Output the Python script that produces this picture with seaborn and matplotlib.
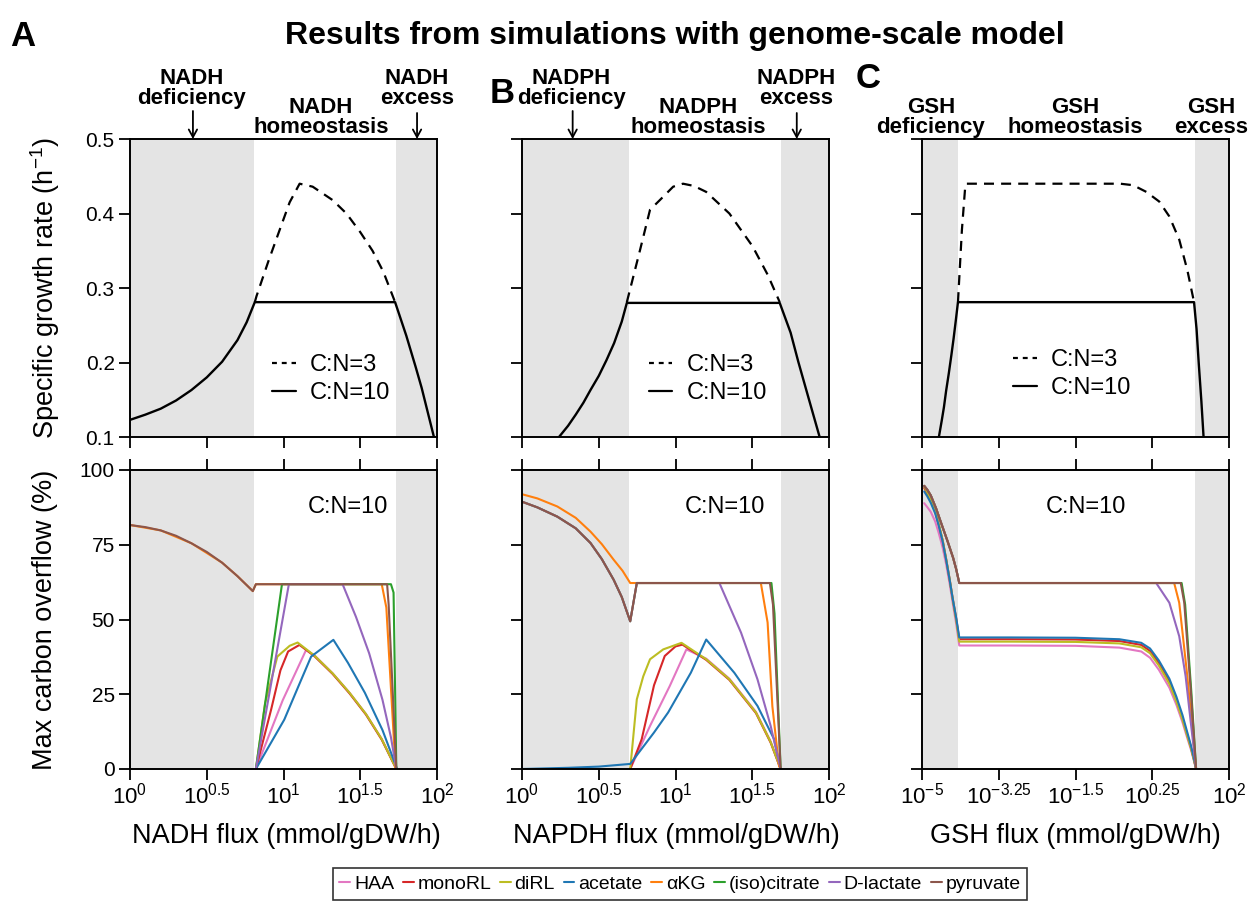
import numpy as np
import pandas as pd
import matplotlib
matplotlib.use("Agg")
import matplotlib.pyplot as plt
from matplotlib.lines import Line2D
from matplotlib.ticker import NullLocator, FixedLocator, FixedFormatter
import seaborn as sns

sns.set_style("ticks")
plt.rcParams["font.family"] = ["Liberation Sans", "DejaVu Sans"]
plt.rcParams["mathtext.fontset"] = "custom"
plt.rcParams["mathtext.rm"] = "Liberation Sans"
plt.rcParams["mathtext.it"] = "Liberation Sans:italic"
plt.rcParams["mathtext.bf"] = "Liberation Sans:bold"
plt.rcParams.update({"text.color": "black", "axes.labelcolor": "black", "xtick.color": "black",
                     "ytick.color": "black", "axes.edgecolor": "black"})

# ---------------- data ----------------
series_names = ["HAA", "monoRL", "diRL", "acetate", "αKG", "(iso)citrate", "D-lactate", "pyruvate"]
series_colors = ["#e377c2", "#d62728", "#bcbd22", "#1f77b4", "#ff7f0e", "#2ca02c", "#9467bd", "#8c564b"]

# x values are log10 of flux
# --- growth rate, panel A (NADH)
growth_a_cn10_lx = [0.0, 0.1, 0.2, 0.3, 0.4, 0.5, 0.6, 0.7, 0.76, 0.813, 1.727, 1.8, 1.861, 1.9, 1.98]
growth_a_cn10 = [0.123, 0.130, 0.138, 0.149, 0.163, 0.180, 0.201, 0.230, 0.254, 0.281, 0.281, 0.236, 0.194, 0.166, 0.100]
growth_a_cn3_lx = [0.813, 0.824, 0.90, 0.975, 1.04, 1.105, 1.19, 1.32, 1.41, 1.50, 1.58, 1.65, 1.727]
growth_a_cn3 = [0.281, 0.289, 0.335, 0.378, 0.415, 0.440, 0.436, 0.418, 0.400, 0.375, 0.350, 0.322, 0.281]
# --- growth rate, panel B (NADPH)
growth_b_cn10_lx = [0.241, 0.3, 0.35, 0.4, 0.446, 0.5, 0.55, 0.6, 0.65, 0.683, 1.679, 1.75, 1.80, 1.87, 1.939]
growth_b_cn10 = [0.100, 0.115, 0.130, 0.146, 0.163, 0.182, 0.203, 0.226, 0.255, 0.280, 0.280, 0.240, 0.201, 0.150, 0.100]
growth_b_cn3_lx = [0.683, 0.769, 0.834, 0.898, 0.985, 1.049, 1.12, 1.20, 1.351, 1.502, 1.60, 1.679]
growth_b_cn3 = [0.281, 0.351, 0.405, 0.418, 0.436, 0.440, 0.437, 0.429, 0.400, 0.356, 0.318, 0.281]
# --- growth rate, panel C (GSH)
growth_c_cn10_lx = [-4.615, -4.55, -4.5, -4.45, -4.39, -4.33, -4.28, -4.23, -4.18, 1.203, 1.26, 1.31, 1.37, 1.42]
growth_c_cn10 = [0.100, 0.122, 0.140, 0.162, 0.185, 0.210, 0.232, 0.256, 0.281, 0.281, 0.245, 0.199, 0.148, 0.100]
growth_c_cn3_lx = [-4.18, -4.09, -4.02, -4.0, -0.48, -0.187, 0.115, 0.41, 0.64, 0.865, 1.05, 1.203]
growth_c_cn3 = [0.281, 0.378, 0.432, 0.440, 0.440, 0.438, 0.429, 0.416, 0.396, 0.365, 0.324, 0.281]

# --- carbon overflow, panel A (NADH)
nadh_haa_lx = [0.82, 0.995, 1.147, 1.20, 1.32, 1.43, 1.537, 1.64, 1.735]
nadh_haa = [0, 23, 39.8, 38.1, 32.0, 25.5, 18.4, 10.0, 0]
nadh_monorl_lx = [0.82, 0.92, 0.98, 1.03, 1.104, 1.20, 1.32, 1.43, 1.537, 1.64, 1.735]
nadh_monorl = [0, 20, 33, 39.3, 41.5, 37.8, 31.8, 25.3, 18.2, 9.8, 0]
nadh_dirl_lx = [0.82, 0.88, 0.96, 1.04, 1.092, 1.20, 1.32, 1.43, 1.537, 1.64, 1.735]
nadh_dirl = [0, 22, 37.6, 41.2, 42.3, 38.0, 32.0, 25.5, 18.4, 10.0, 0]
nadh_acetate_lx = [0.82, 1.005, 1.10, 1.18, 1.325, 1.42, 1.53, 1.645, 1.70, 1.74]
nadh_acetate = [0, 16.5, 28, 37.6, 43.2, 35.5, 25.5, 13, 5.5, 0]
nadh_akg_lx = [0.0, 0.2, 0.4, 0.6, 0.7, 0.8, 0.82, 1.64, 1.67, 1.73]
nadh_akg = [81.6, 79.8, 75.5, 69, 64.5, 59.5, 61.8, 61.8, 54, 0]
nadh_citrate_lx = [0.82, 0.99, 1.70, 1.717, 1.735]
nadh_citrate = [0, 61.8, 61.8, 59, 0]
nadh_dlactate_lx = [0.82, 1.035, 1.385, 1.472, 1.558, 1.645, 1.70, 1.735]
nadh_dlactate = [0, 61.8, 61.8, 50.9, 38.7, 23.1, 10.6, 0]
nadh_pyruvate_lx = [0.0, 0.1, 0.2, 0.3, 0.4, 0.5, 0.6, 0.7, 0.8, 0.82, 1.675, 1.685, 1.735]
nadh_pyruvate = [81.6, 80.9, 79.8, 78.0, 75.5, 72.6, 69.0, 64.5, 59.5, 61.8, 61.8, 55, 0]

# --- carbon overflow, panel B (NADPH)
nadph_haa_lx = [0.705, 0.834, 0.963, 1.071, 1.20, 1.351, 1.524, 1.62, 1.685]
nadph_haa = [0, 14.4, 27.8, 40.0, 36.9, 30.2, 19.1, 9.2, 0]
nadph_monorl_lx = [0.705, 0.78, 0.86, 0.93, 1.0, 1.045, 1.20, 1.351, 1.524, 1.62, 1.685]
nadph_monorl = [0, 10, 28, 37.8, 41, 41.6, 36.5, 29.8, 18.7, 8.8, 0]
nadph_dirl_lx = [0.705, 0.748, 0.79, 0.834, 0.92, 1.039, 1.20, 1.351, 1.524, 1.62, 1.685]
nadph_dirl = [0, 23.3, 31, 36.7, 40, 42.2, 36.7, 30, 18.9, 9, 0]
nadph_acetate_lx = [0.0, 0.3, 0.5, 0.705, 0.86, 0.952, 1.10, 1.20, 1.383, 1.534, 1.642, 1.685]
nadph_acetate = [0, 0.4, 0.8, 1.7, 12.2, 18.9, 32.2, 43.3, 32.2, 21.1, 10, 0]
nadph_akg_lx = [0.0, 0.1, 0.23, 0.35, 0.446, 0.52, 0.597, 0.655, 0.705, 1.556, 1.60, 1.631, 1.674, 1.685]
nadph_akg = [91.9, 90.5, 87.8, 84, 79.4, 75.2, 70, 66.3, 62.2, 62.2, 49, 21, 1.1, 0]
nadph_citrate_lx = [0.0, 0.1, 0.23, 0.35, 0.446, 0.52, 0.597, 0.65, 0.705, 0.748, 1.625, 1.645, 1.685]
nadph_citrate = [89.4, 87.5, 84.4, 80.5, 75.6, 70.2, 63.3, 57.5, 49.4, 62.2, 62.2, 52, 0]
nadph_dlactate_lx = [0.0, 0.1, 0.23, 0.35, 0.446, 0.52, 0.597, 0.65, 0.705, 0.748, 1.286, 1.427, 1.534, 1.62, 1.685]
nadph_dlactate = [89.4, 87.5, 84.4, 80.5, 75.6, 70.2, 63.3, 57.5, 49.4, 62.2, 62.2, 45.6, 30, 14.4, 0]
nadph_pyruvate_lx = [0.0, 0.1, 0.23, 0.35, 0.446, 0.52, 0.597, 0.65, 0.705, 0.748, 1.615, 1.635, 1.685]
nadph_pyruvate = [89.4, 87.5, 84.4, 80.5, 75.6, 70.2, 63.3, 57.5, 49.4, 62.2, 62.2, 55, 0]

# --- carbon overflow, panel C (GSH)
gsh_low_lx = [-4.95, -4.88, -4.8, -4.7, -4.62, -4.53, -4.45, -4.37, -4.3, -4.22, -4.15, -3.0, -1.5, -0.5,
              0.0, 0.2, 0.4, 0.64, 0.8, 0.94, 1.05, 1.13, 1.2, 1.25]
gsh_haa = [88.9, 87.6, 86.0, 82.8, 79.0, 74.1, 68.5, 62.0, 55.6, 48.5, 41.3, 41.3, 41.2, 40.6,
           39.3, 37.2, 33.2, 27.2, 21.5, 15.6, 10.3, 6.6, 2.8, 0]
gsh_monorl = [94.0, 92.2, 89.8, 86.0, 81.8, 76.5, 70.2, 63.5, 57.0, 50.3, 43.4, 43.4, 43.3, 42.8,
              41.5, 39.5, 35.4, 29.2, 23.2, 17.0, 11.4, 7.4, 3.2, 0]
gsh_dirl = [94.5, 92.6, 90.2, 86.3, 82.0, 76.6, 70.3, 63.4, 56.8, 49.8, 42.6, 42.6, 42.5, 42.0,
            40.7, 38.7, 34.6, 28.5, 22.6, 16.5, 11.0, 7.1, 3.0, 0]
gsh_acetate = [92.8, 91.2, 89.0, 85.5, 81.5, 76.2, 70.0, 63.3, 57.0, 50.5, 44.0, 44.0, 43.9, 43.4,
               42.2, 40.3, 36.3, 30.2, 24.2, 18.0, 12.2, 8.0, 3.6, 0]
gsh_akg_lx = [-4.95, -4.88, -4.8, -4.68, -4.55, -4.42, -4.29, -4.22, -4.15, 0.75, 0.865, 1.05, 1.25]
gsh_akg = [94.7, 93.4, 91.5, 87.2, 81.7, 76.3, 70.6, 66.8, 62.2, 62.2, 55.6, 31.0, 0]
gsh_citrate_lx = [-4.95, -4.88, -4.8, -4.68, -4.55, -4.42, -4.29, -4.22, -4.15, 0.92, 1.0, 1.14, 1.25]
gsh_citrate = [94.7, 93.4, 91.5, 87.2, 81.7, 76.3, 70.6, 66.8, 62.2, 62.2, 55.0, 26.0, 0]
gsh_dlactate_lx = [-4.95, -4.88, -4.8, -4.68, -4.55, -4.42, -4.29, -4.22, -4.15, 0.34, 0.64, 0.865, 1.01, 1.12, 1.25]
gsh_dlactate = [94.7, 93.4, 91.5, 87.2, 81.7, 76.3, 70.6, 66.8, 62.2, 62.2, 55.6, 44.4, 31.1, 16.7, 0]
gsh_pyruvate_lx = [-4.95, -4.88, -4.8, -4.68, -4.55, -4.42, -4.29, -4.22, -4.15, 0.90, 0.98, 1.13, 1.25]
gsh_pyruvate = [94.7, 93.4, 91.5, 87.2, 81.7, 76.3, 70.6, 66.8, 62.2, 62.2, 55.6, 26.0, 0]

# homeostasis window (log10 flux)
homeo_a = [0.81, 1.73]
homeo_b = [0.70, 1.69]
homeo_c = [-4.17, 1.225]

xtick_ab = [0.0, 0.5, 1.0, 1.5, 2.0]
xtick_ab_labels = [r"$10^{0}$", r"$10^{0.5}$", r"$10^{1}$", r"$10^{1.5}$", r"$10^{2}$"]
xtick_c = [-5.0, -3.25, -1.5, 0.25, 2.0]
xtick_c_labels = [r"$10^{-5}$", r"$10^{-3.25}$", r"$10^{-1.5}$", r"$10^{0.25}$", r"$10^{2}$"]
ytick_top = [0.1, 0.2, 0.3, 0.4, 0.5]
ytick_bot = [0, 25, 50, 75, 100]

# ---------------- figure ----------------
W, H = 1257, 907
fig = plt.figure(figsize=(W / 100, H / 100), dpi=100)


def axpos(l, r, t, b):
    return [l / W, 1 - b / H, (r - l) / W, (b - t) / H]


ax_top = [fig.add_axes(axpos(130, 437, 139, 437)),
          fig.add_axes(axpos(522, 829, 139, 437)),
          fig.add_axes(axpos(922, 1229, 139, 437))]
ax_bot = [fig.add_axes(axpos(130, 437, 470, 769)),
          fig.add_axes(axpos(522, 829, 470, 769)),
          fig.add_axes(axpos(922, 1229, 470, 769))]

GRAY = "#e4e4e4"


def line(ax, lx, y, color, lw, ls="-"):
    df = pd.DataFrame({"x": np.power(10.0, np.asarray(lx, dtype=float)), "y": y})
    sns.lineplot(data=df, x="x", y="y", ax=ax, color=color, lw=lw, linestyle=ls,
                 sort=False, estimator=None, legend=False)


def setup(ax, xr, homeo, xt, xtl, yt, ylim, top_row, show_ylabels):
    ax.set_xscale("log")
    ax.set_xlim(10 ** xr[0], 10 ** xr[1])
    ax.set_ylim(*ylim)
    ax.axvspan(10 ** xr[0], 10 ** homeo[0], color=GRAY, lw=0, zorder=0)
    ax.axvspan(10 ** homeo[1], 10 ** xr[1], color=GRAY, lw=0, zorder=0)
    ax.xaxis.set_major_locator(FixedLocator([10 ** v for v in xt]))
    ax.xaxis.set_major_formatter(FixedFormatter(xtl))
    ax.xaxis.set_minor_locator(NullLocator())
    ax.set_yticks(yt)
    ax.yaxis.set_minor_locator(NullLocator())
    for sp in ax.spines.values():
        sp.set_linewidth(1.4)
        sp.set_color("black")
        sp.set_zorder(5)
    ax.tick_params(direction="out", length=8, width=1.3, colors="black", labelsize=15, pad=3)
    ax.tick_params(axis="x", labelsize=16)
    if top_row:
        ax.tick_params(axis="x", labelbottom=False)
        ax.set_yticklabels([f"{v:.1f}" for v in yt])
    else:
        ax.tick_params(axis="x", top=True, labeltop=False, labelbottom=True, pad=2)
        ax.set_yticklabels([str(v) for v in yt])
    if not show_ylabels:
        ax.tick_params(axis="y", labelleft=False)
    ax.set_xlabel("")
    ax.set_ylabel("")


ranges = [(0, 2), (0, 2), (-5, 2)]
homeos = [homeo_a, homeo_b, homeo_c]
xts = [(xtick_ab, xtick_ab_labels), (xtick_ab, xtick_ab_labels), (xtick_c, xtick_c_labels)]

DASH = (0, (4.5, 3.2))
growth_sets = [
    (growth_a_cn10_lx, growth_a_cn10, growth_a_cn3_lx, growth_a_cn3),
    (growth_b_cn10_lx, growth_b_cn10, growth_b_cn3_lx, growth_b_cn3),
    (growth_c_cn10_lx, growth_c_cn10, growth_c_cn3_lx, growth_c_cn3),
]
legend_pos = [(0.655, 0.195), (0.605, 0.195), (0.49, 0.21)]
for i, ax in enumerate(ax_top):
    l10, y10, l3, y3 = growth_sets[i]
    line(ax, l10, y10, "black", 1.7)
    line(ax, l3, y3, "black", 1.6, DASH)
    setup(ax, ranges[i], homeos[i], xts[i][0], xts[i][1], ytick_top, (0.1, 0.5), True, i == 0)
    handles = [Line2D([], [], color="black", lw=1.6, ls=(0, (2.2, 2.2))),
               Line2D([], [], color="black", lw=1.6)]
    ax.legend(handles, ["C:N=3", "C:N=10"], loc="center", bbox_to_anchor=legend_pos[i],
              frameon=False, fontsize=17, handlelength=1.0, handletextpad=0.6,
              labelspacing=0.25, borderpad=0.1)

overflow_sets = [
    [(nadh_haa_lx, nadh_haa), (nadh_monorl_lx, nadh_monorl), (nadh_dirl_lx, nadh_dirl),
     (nadh_acetate_lx, nadh_acetate), (nadh_akg_lx, nadh_akg), (nadh_citrate_lx, nadh_citrate),
     (nadh_dlactate_lx, nadh_dlactate), (nadh_pyruvate_lx, nadh_pyruvate)],
    [(nadph_haa_lx, nadph_haa), (nadph_monorl_lx, nadph_monorl), (nadph_dirl_lx, nadph_dirl),
     (nadph_acetate_lx, nadph_acetate), (nadph_akg_lx, nadph_akg), (nadph_citrate_lx, nadph_citrate),
     (nadph_dlactate_lx, nadph_dlactate), (nadph_pyruvate_lx, nadph_pyruvate)],
    [(gsh_low_lx, gsh_haa), (gsh_low_lx, gsh_monorl), (gsh_low_lx, gsh_dirl),
     (gsh_low_lx, gsh_acetate), (gsh_akg_lx, gsh_akg), (gsh_citrate_lx, gsh_citrate),
     (gsh_dlactate_lx, gsh_dlactate), (gsh_pyruvate_lx, gsh_pyruvate)],
]
cn_text_x = [0.71, 0.66, 0.535]
for i, ax in enumerate(ax_bot):
    for (lx, y), c in zip(overflow_sets[i], series_colors):
        line(ax, lx, y, c, 1.5)
    setup(ax, ranges[i], homeos[i], xts[i][0], xts[i][1], ytick_bot, (0, 100), False, i == 0)
    ax.text(cn_text_x[i], 0.876, "C:N=10", transform=ax.transAxes, ha="center", va="center", fontsize=17)

# axis labels
fig.text(45 / W, 1 - 288 / H, "Specific growth rate (h$^{-1}$)", rotation=90, ha="center", va="center", fontsize=19.5)
fig.text(45 / W, 1 - 620 / H, "Max carbon overflow (%)", rotation=90, ha="center", va="center", fontsize=19.5)
for cx, lab in [(286, "NADH flux (mmol/gDW/h)"), (676, "NAPDH flux (mmol/gDW/h)"), (1075, "GSH flux (mmol/gDW/h)")]:
    fig.text(cx / W, 1 - 836 / H, lab, ha="center", va="center", fontsize=19.5)

# title and panel letters
fig.text(675 / W, 1 - 44 / H, "Results from simulations with genome-scale model", ha="center",
         va="baseline", fontsize=23, fontweight="bold")
fig.text(10 / W, 1 - 46 / H, "A", ha="left", va="baseline", fontsize=25, fontweight="bold")
fig.text(502 / W, 1 - 103 / H, "B", ha="center", va="baseline", fontsize=25, fontweight="bold")
fig.text(868 / W, 1 - 88 / H, "C", ha="center", va="baseline", fontsize=25, fontweight="bold")

# regime annotations (two-line labels, bottom line baseline given)
LAB = dict(ha="center", va="baseline", fontsize=16, fontweight="bold", linespacing=0.95)
for cx, txt in [(192, "NADH\ndeficiency"), (417, "NADH\nexcess"),
                (571, "NADPH\ndeficiency"), (796, "NADPH\nexcess")]:
    fig.text(cx / W, 1 - 104 / H, txt, **LAB)
for cx, txt in [(321, "NADH\nhomeostasis"), (698, "NADPH\nhomeostasis"),
                (931, "GSH\ndeficiency"), (1075, "GSH\nhomeostasis"), (1211, "GSH\nexcess")]:
    fig.text(cx / W, 1 - 133 / H, txt, **LAB)

arrow_pos = [(ax_top[0], 0.41, 111), (ax_top[0], 1.87, 113), (ax_top[1], 0.33, 111), (ax_top[1], 1.79, 113)]
for ax, lxv, ytop in arrow_pos:
    ax.annotate("", xy=(10 ** lxv, 1.0), xycoords=("data", "axes fraction"),
                xytext=(10 ** lxv, 1.0 + (139 - ytop) / 298), textcoords=("data", "axes fraction"),
                arrowprops=dict(arrowstyle="->,head_length=0.55,head_width=0.3", lw=1.3, color="black",
                                shrinkA=0, shrinkB=0), annotation_clip=False)

# bottom legend
leg_handles = [Line2D([], [], color=c, lw=1.5) for c in series_colors]
leg = fig.legend(leg_handles, series_names, loc="center", bbox_to_anchor=(680 / W, 1 - 884 / H), ncol=8,
                 frameon=True, fancybox=False, edgecolor="black", fontsize=14, handlelength=0.55,
                 handletextpad=0.2, columnspacing=0.45, borderpad=0.35)
leg.get_frame().set_linewidth(1.2)

fig.savefig("out.png", dpi=100)
